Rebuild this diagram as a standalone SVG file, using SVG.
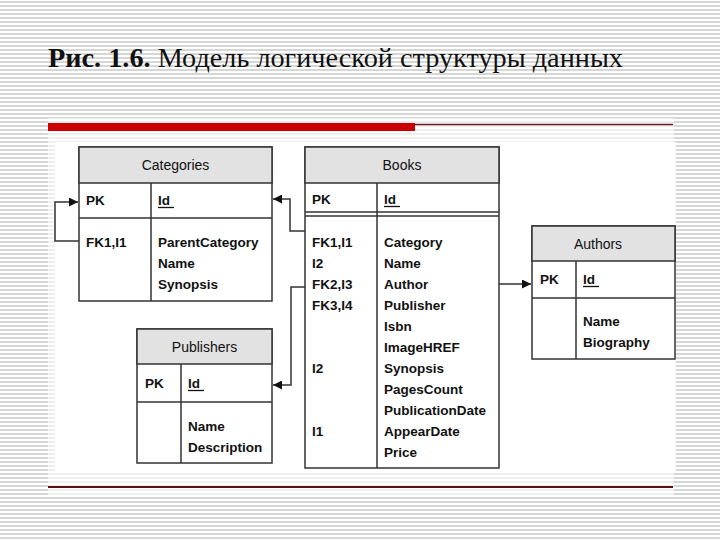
<svg xmlns="http://www.w3.org/2000/svg" width="720" height="540" viewBox="0 0 720 540">
<defs>
<pattern id="stripes" width="8" height="4" patternUnits="userSpaceOnUse">
<rect width="8" height="4" fill="#ffffff"/>
<rect y="1" width="8" height="2" fill="#d6d6d6"/>
</pattern>
<marker id="arr" viewBox="0 0 10 10" refX="10" refY="5" markerWidth="11" markerHeight="9" markerUnits="userSpaceOnUse" orient="auto">
<path d="M0,0 L10,5 L0,10 z" fill="#111"/>
</marker>
<style>
.box{fill:#fff;stroke:#333;stroke-width:1.5}
.hdr{fill:#e2e2e2;stroke:#333;stroke-width:1.5}
.ln{stroke:#333;stroke-width:1.5;fill:none}
.ht{font-family:"Liberation Sans",Arial,sans-serif;font-size:14px;fill:#111;text-anchor:middle}
.t{font-family:"Liberation Sans",Arial,sans-serif;font-size:13.5px;font-weight:bold;fill:#111}
.con{stroke:#333;stroke-width:1.5;fill:none}
</style>
</defs>
<rect width="720" height="540" fill="url(#stripes)"/>
<rect x="48" y="118" width="626" height="378" fill="#fff" opacity="0.6"/>
<rect x="55" y="142" width="621" height="330" fill="#fff"/>
<text x="48" y="67" font-family="'Liberation Serif','Times New Roman',serif" font-size="28" fill="#111" textLength="575" lengthAdjust="spacingAndGlyphs"><tspan font-weight="bold">Рис. 1.6.</tspan> Модель логической структуры данных</text>
<rect x="48" y="123" width="367" height="8" fill="#cc0000"/>
<line x1="415" y1="124.5" x2="673" y2="124.5" stroke="#6a1a1a" stroke-width="1.5"/>
<line x1="48" y1="487" x2="673" y2="487" stroke="#5a1010" stroke-width="2"/>

<g id="connectors">
<path class="con" d="M79,241 H55 V202 H78" marker-end="url(#arr)"/>
<path class="con" d="M305,231 H290 V199 H273" marker-end="url(#arr)"/>
<path class="con" d="M305,287 H291 V385 H273" marker-end="url(#arr)"/>
<path class="con" d="M499,284 H531" marker-end="url(#arr)"/>
</g>

<g id="categories">
<rect class="box" x="79" y="147" width="193" height="154"/>
<rect class="hdr" x="79" y="147" width="193" height="36"/>
<line class="ln" x1="79" y1="218" x2="272" y2="218"/>
<line class="ln" x1="151" y1="183" x2="151" y2="301"/>
<text class="ht" x="175.5" y="170">Categories</text>
<text class="t" x="86" y="205">PK</text>
<text class="t" x="158" y="205">Id</text>
<line x1="158" y1="207.5" x2="174" y2="207.5" stroke="#111" stroke-width="1.3"/>
<text class="t" x="86" y="247">FK1,I1</text>
<text class="t" x="158" y="247">ParentCategory</text>
<text class="t" x="158" y="268">Name</text>
<text class="t" x="158" y="289">Synopsis</text>
</g>

<g id="books">
<rect class="box" x="305" y="147" width="194" height="321"/>
<rect class="hdr" x="305" y="147" width="194" height="36"/>
<line class="ln" x1="305" y1="212" x2="499" y2="212"/>
<line class="ln" x1="305" y1="216" x2="499" y2="216"/>
<line class="ln" x1="377" y1="183" x2="377" y2="468"/>
<text class="ht" x="402" y="170">Books</text>
<text class="t" x="312" y="204">PK</text>
<text class="t" x="384" y="204">Id</text>
<line x1="384" y1="206.5" x2="400" y2="206.5" stroke="#111" stroke-width="1.3"/>
<text class="t" x="312" y="247">FK1,I1</text>
<text class="t" x="312" y="268">I2</text>
<text class="t" x="312" y="289">FK2,I3</text>
<text class="t" x="312" y="310">FK3,I4</text>
<text class="t" x="312" y="373">I2</text>
<text class="t" x="312" y="436">I1</text>
<text class="t" x="384" y="247">Category</text>
<text class="t" x="384" y="268">Name</text>
<text class="t" x="384" y="289">Author</text>
<text class="t" x="384" y="310">Publisher</text>
<text class="t" x="384" y="331">Isbn</text>
<text class="t" x="384" y="352">ImageHREF</text>
<text class="t" x="384" y="373">Synopsis</text>
<text class="t" x="384" y="394">PagesCount</text>
<text class="t" x="384" y="415">PublicationDate</text>
<text class="t" x="384" y="436">AppearDate</text>
<text class="t" x="384" y="457">Price</text>
</g>

<g id="authors">
<rect class="box" x="532" y="226" width="143" height="133"/>
<rect class="hdr" x="532" y="226" width="143" height="35"/>
<line class="ln" x1="532" y1="298" x2="675" y2="298"/>
<line class="ln" x1="576" y1="261" x2="576" y2="359"/>
<text class="ht" x="598" y="249">Authors</text>
<text class="t" x="540" y="284">PK</text>
<text class="t" x="583" y="284">Id</text>
<line x1="583" y1="286.5" x2="599" y2="286.5" stroke="#111" stroke-width="1.3"/>
<text class="t" x="583" y="326">Name</text>
<text class="t" x="583" y="347">Biography</text>
</g>

<g id="publishers">
<rect class="box" x="137" y="329" width="135" height="134"/>
<rect class="hdr" x="137" y="329" width="135" height="35"/>
<line class="ln" x1="137" y1="402" x2="272" y2="402"/>
<line class="ln" x1="181" y1="364" x2="181" y2="463"/>
<text class="ht" x="204.5" y="352">Publishers</text>
<text class="t" x="145" y="388">PK</text>
<text class="t" x="188" y="388">Id</text>
<line x1="188" y1="390.5" x2="204" y2="390.5" stroke="#111" stroke-width="1.3"/>
<text class="t" x="188" y="431">Name</text>
<text class="t" x="188" y="452">Description</text>
</g>
</svg>
